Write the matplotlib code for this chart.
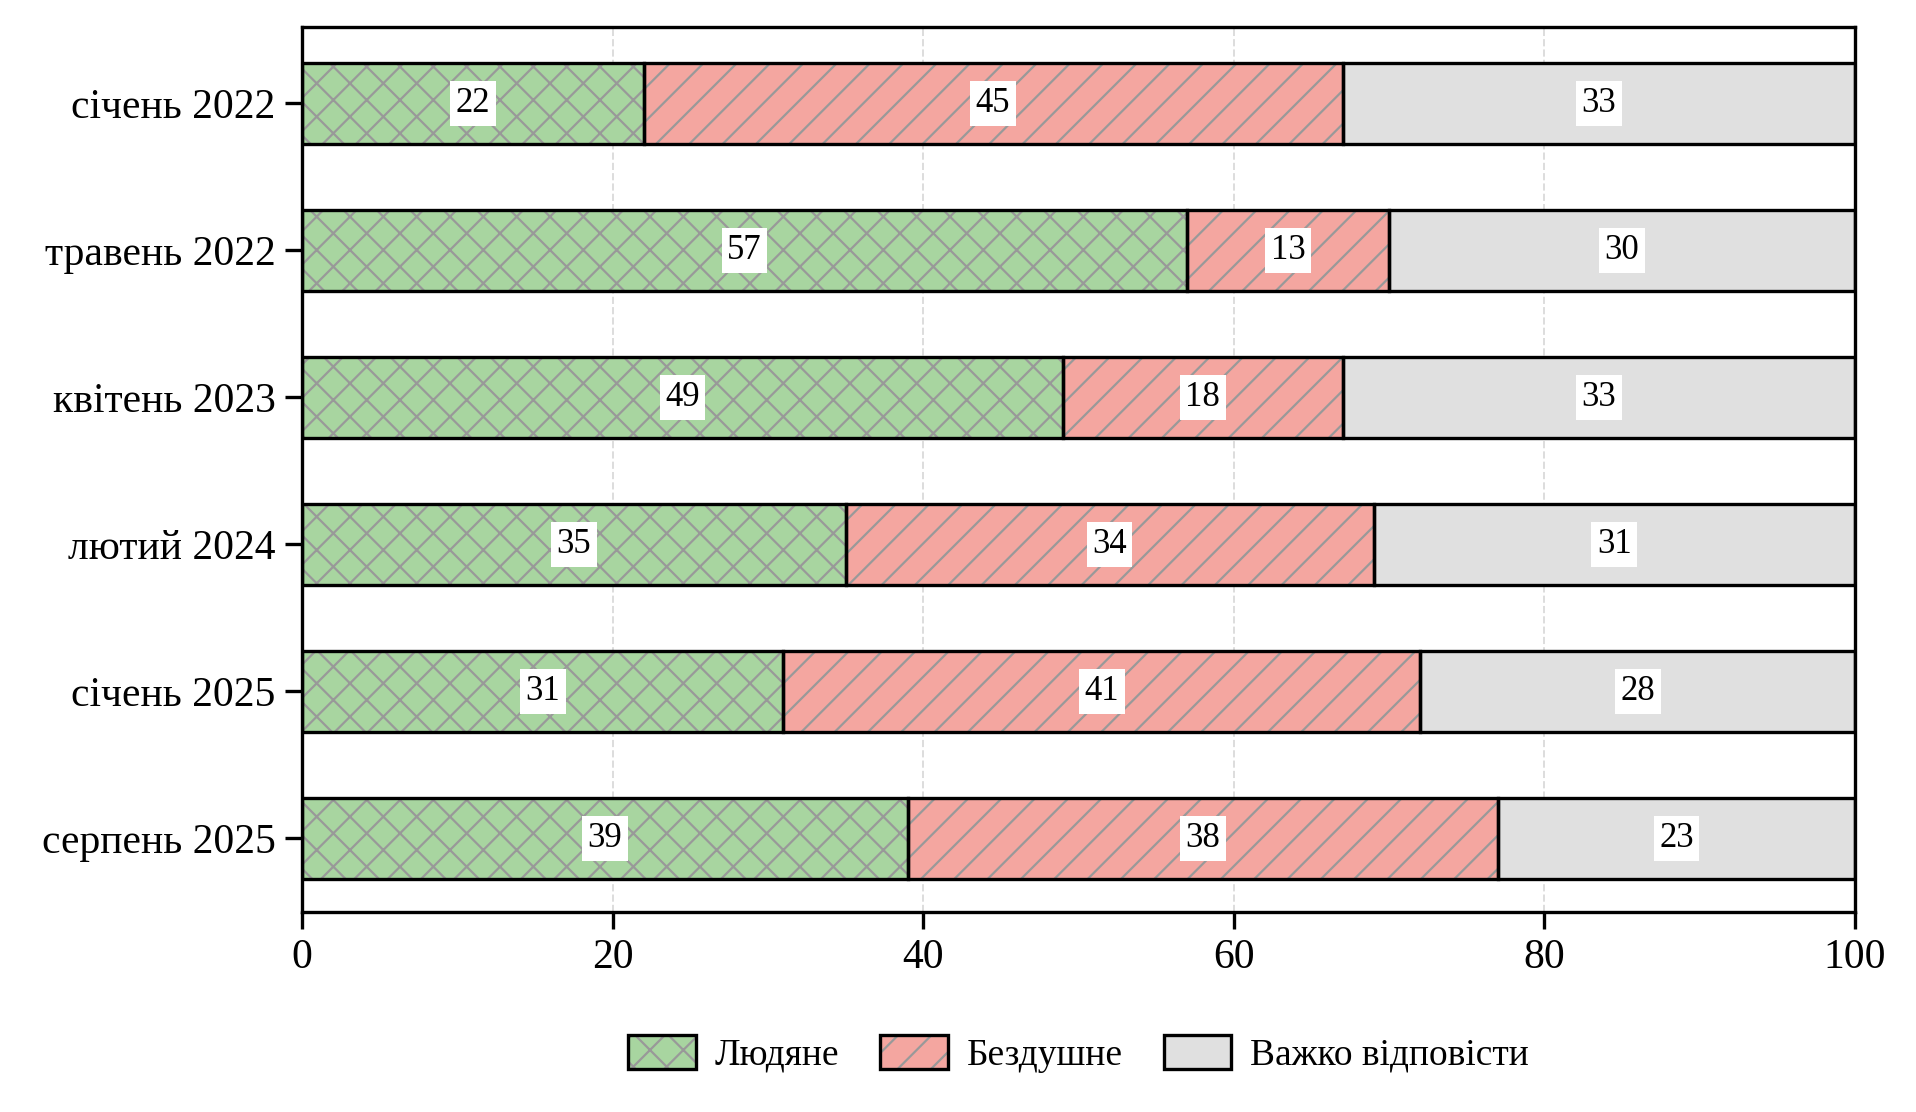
import matplotlib
matplotlib.use("Agg")
import matplotlib.pyplot as plt
from matplotlib.patches import Patch
from matplotlib.legend_handler import HandlerTuple
import numpy as np

categories = ["січень 2022", "травень 2022", "квітень 2023", "лютий 2024", "січень 2025", "серпень 2025"]
series_names = ["Людяне", "Бездушне", "Важко відповісти"]
human = [22, 57, 49, 35, 31, 39]
soulless = [45, 13, 18, 34, 41, 38]
hard = [33, 30, 33, 31, 28, 23]
xticks = [0, 20, 40, 60, 80, 100]

colors = ["#a8d5a0", "#f4a6a0", "#e0e0e0"]
hatches = ["xx", "//", ""]
hatch_gray = "#999999"

plt.rcParams['font.family'] = ['Liberation Serif', 'DejaVu Serif']
plt.rcParams['hatch.linewidth'] = 0.8

fig = plt.figure(figsize=(9.58, 5.56), dpi=200)
ax_left, ax_right, ax_top, ax_bottom = 302/1916, 1855/1916, 1 - 27/1112, 1 - 912/1112
ax = fig.add_axes([ax_left, ax_bottom, ax_right - ax_left, ax_top - ax_bottom])

y = np.arange(len(categories))
left = np.zeros(len(categories))
handles = []
for vals, col, h, name in zip([human, soulless, hard], colors, hatches, series_names):
    vals = np.array(vals, dtype=float)
    ax.barh(y, vals, left=left, height=0.55, color=col, hatch=h,
            edgecolor=hatch_gray, linewidth=0, zorder=2)
    ax.barh(y, vals, left=left, height=0.55, facecolor='none',
            edgecolor='black', linewidth=1.2, zorder=3)
    for yi, l, v in zip(y, left, vals):
        ax.text(l + v / 2, yi, f"{int(v)}", ha='center', va='center', fontsize=12.5,
                zorder=4, bbox=dict(facecolor='white', edgecolor='none', pad=2))
    p1 = Patch(facecolor=col, hatch=h, edgecolor=hatch_gray, linewidth=0)
    p2 = Patch(facecolor='none', edgecolor='black', linewidth=1.2)
    handles.append((p1, p2))
    left = left + vals

ax.set_yticks(y)
ax.set_yticklabels(categories, fontsize=15)
ax.set_ylim(len(categories) - 1 + 0.5, -0.52)
ax.set_xlim(0, 100)
ax.set_xticks(xticks)
ax.set_xticklabels([str(t) for t in xticks], fontsize=15)
ax.xaxis.grid(True, linestyle='--', color='#dddddd', linewidth=0.7, zorder=0)
ax.set_axisbelow(True)
for s in ax.spines.values():
    s.set_linewidth(1.2)
ax.tick_params(axis='both', width=1.2, length=6)

fig.legend(handles, series_names, handler_map={tuple: HandlerTuple(ndivide=1)},
           loc='center', bbox_to_anchor=((ax_left + ax_right) / 2, 1 - 1054/1112), ncol=3,
           frameon=False, fontsize=13.5, handlelength=1.8, handleheight=1.0,
           handletextpad=0.5, columnspacing=1.1)

fig.savefig("out.png", dpi=200)
